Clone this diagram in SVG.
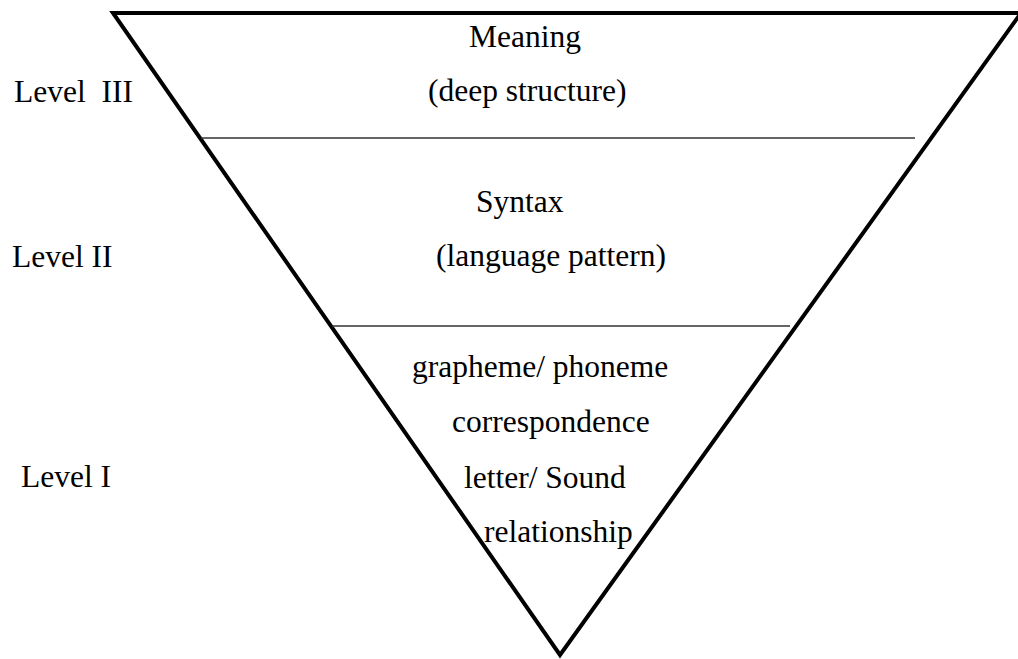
<svg xmlns="http://www.w3.org/2000/svg" width="1018" height="659" viewBox="0 0 1018 659">
  <style>
    .label { font-family: "Liberation Serif", "Times New Roman", serif; font-size: 31.5px; fill: #000; white-space: pre; }
    .tri { fill: none; stroke: #000; stroke-width: 4; stroke-linejoin: miter; }
    .divider { stroke: #333; stroke-width: 1.4; }
  </style>
  <rect width="1018" height="659" fill="#fff"/>

  <!-- inverted triangle outline -->
  <g id="pyramid">
    <polygon class="tri" points="113,13 1021,13 560,655"/>
  </g>

  <!-- level dividers -->
  <g id="dividers">
    <line class="divider" x1="201" y1="138" x2="915" y2="138"/>
    <line class="divider" x1="332" y1="326" x2="790" y2="326"/>
  </g>

  <g id="level3">
    <text class="label" x="14" y="102">Level  III</text>
    <text class="label" x="469" y="47">Meaning</text>
    <text class="label" x="428" y="101">(deep structure)</text>
  </g>

  <g id="level2">
    <text class="label" x="12" y="267">Level II</text>
    <text class="label" x="476" y="212">Syntax</text>
    <text class="label" x="436" y="266">(language pattern)</text>
  </g>

  <g id="level1">
    <text class="label" x="21" y="487">Level I</text>
    <text class="label" x="412" y="377">grapheme/ phoneme</text>
    <text class="label" x="452" y="432">correspondence</text>
    <text class="label" x="464" y="488">letter/ Sound</text>
    <text class="label" x="484" y="542">relationship</text>
  </g>
</svg>
